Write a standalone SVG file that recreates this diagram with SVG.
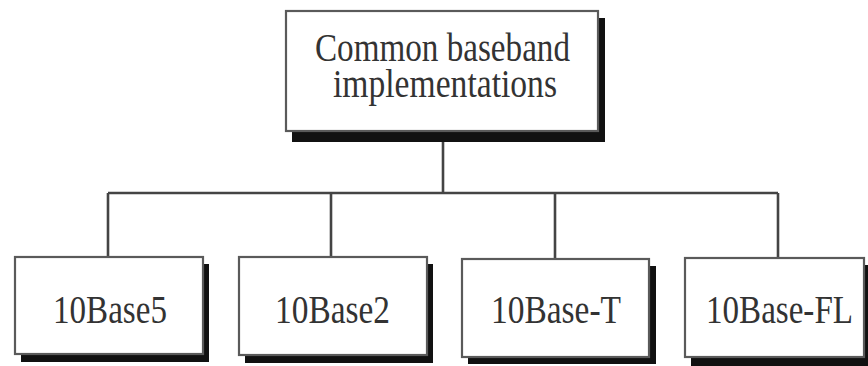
<svg xmlns="http://www.w3.org/2000/svg" width="868" height="366" viewBox="0 0 868 366">
  <style>
    .box { fill: #ffffff; stroke: #5a5a5a; stroke-width: 2.2; }
    .shadow { fill: #111111; }
    .label { font-family: "Liberation Serif", "Times New Roman", serif; font-size: 41px; fill: #333333; }
    .wire { fill: none; stroke: #444444; stroke-width: 2.6; }
  </style>

  <!-- connectors: trunk from the root, the bus, and the four drops -->
  <g id="connectors">
    <path class="wire" d="M443 136 V193"/>
    <path class="wire" d="M108 193 H778"/>
    <path class="wire" d="M108 193 V257"/>
    <path class="wire" d="M331 193 V257"/>
    <path class="wire" d="M555 193 V259"/>
    <path class="wire" d="M778 193 V258"/>
  </g>

  <!-- root node; labels use a condensed serif (horizontal scale 0.8) -->
  <g id="root">
    <rect class="shadow" x="292" y="18" width="313" height="124"/>
    <rect class="box" x="286" y="11" width="312" height="120"/>
    <text class="label" transform="translate(315 61) scale(0.8 1)" textLength="318.75" lengthAdjust="spacingAndGlyphs">Common baseband</text>
    <text class="label" transform="translate(333 97) scale(0.8 1)" textLength="280" lengthAdjust="spacingAndGlyphs">implementations</text>
  </g>

  <!-- leaf nodes -->
  <g id="base5">
    <rect class="shadow" x="21" y="264" width="188" height="98"/>
    <rect class="box" x="15" y="257" width="188" height="97"/>
    <text class="label" transform="translate(53 323) scale(0.8 1)" textLength="142.5" lengthAdjust="spacingAndGlyphs">10Base5</text>
  </g>

  <g id="base2">
    <rect class="shadow" x="245" y="264" width="188" height="99"/>
    <rect class="box" x="239" y="257" width="188" height="98"/>
    <text class="label" transform="translate(275 323) scale(0.8 1)" textLength="143.75" lengthAdjust="spacingAndGlyphs">10Base2</text>
  </g>

  <g id="baseT">
    <rect class="shadow" x="468" y="266" width="188" height="98"/>
    <rect class="box" x="462" y="259" width="187" height="98"/>
    <text class="label" transform="translate(491 323) scale(0.8 1)" textLength="162.5" lengthAdjust="spacingAndGlyphs">10Base-T</text>
  </g>

  <g id="baseFL">
    <rect class="shadow" x="691" y="265" width="177" height="101"/>
    <rect class="box" x="685" y="258" width="179" height="99"/>
    <text class="label" transform="translate(706 323) scale(0.8 1)" textLength="183.75" lengthAdjust="spacingAndGlyphs">10Base-FL</text>
  </g>
</svg>
